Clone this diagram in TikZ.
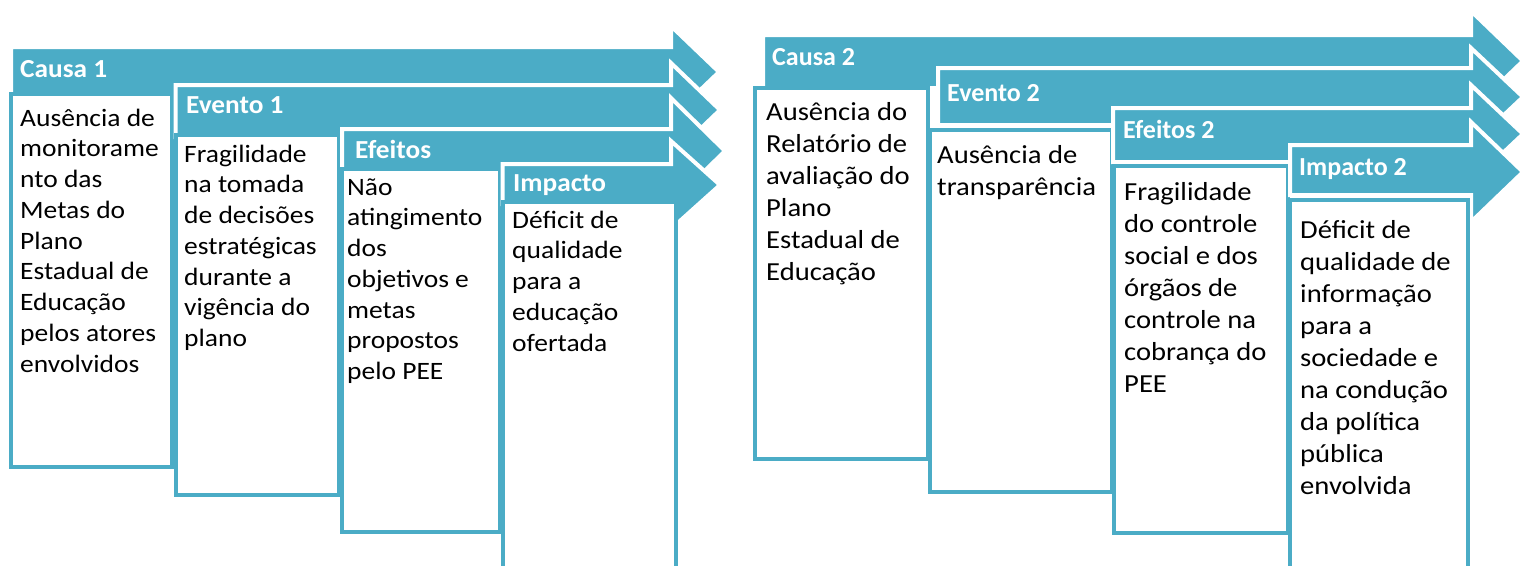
\documentclass[tikz,border=0pt]{standalone}
\usepackage{fontspec}
\setmainfont{Carlito}
\newfontfamily\bodyfont{Carlito}[FakeStretch=1.1]
\newfontfamily\headfont{Carlito}[FakeStretch=1.05]
\definecolor{accent}{HTML}{4BACC6}
% #1 xL, #2 yTop, #3 yBottom, #4 xHead, #5 centre y, #6 half head height, #7 x tip
\newcommand\procarrow[7]{%
  \path[arrowshape] (#1,#2) -- (#4,#2) -- (#4,#5-#6) -- (#7,#5) -- (#4,#5+#6) -- (#4,#3) -- (#1,#3) -- cycle;}
\begin{document}
\begin{tikzpicture}[x=1pt,y=-1pt,
  arrowshape/.style={fill=accent,draw=white,line width=4pt,line join=miter},
  boxshape/.style={fill=white,draw=accent,line width=4pt},
  headA/.style={anchor=base west,inner sep=0pt,text=white,font=\headfont\bfseries\fontsize{26}{31}\selectfont},
  headB/.style={anchor=base west,inner sep=0pt,text=white,font=\setmainfont{Carlito}\bfseries\fontsize{26}{31}\selectfont},
  bodyA/.style={anchor=north west,inner sep=0pt,align=left,text=black,font=\bodyfont\fontsize{25}{30.75}\selectfont},
  bodyB/.style={anchor=north west,inner sep=0pt,align=left,text=black,font=\bodyfont\fontsize{26}{32}\selectfont}
]
\useasboundingbox (0,0) rectangle (1520,565);
\clip (0,0) rectangle (1520,565);
% ---------------- group 1 ----------------
\procarrow{11}{47}{96}{671}{72}{46}{719}
\path[boxshape] (11,94) rectangle (172,467);
\procarrow{175.5}{85}{137}{671}{110}{47}{720}
\path[boxshape] (175.5,135) rectangle (338.5,495);
\procarrow{342}{129}{171}{671}{151}{53}{725}
\path[boxshape] (342,169) rectangle (500,532);
\procarrow{502.5}{164}{204}{671}{185}{44}{720}
\path[boxshape] (502.5,202) rectangle (676,620);

\node[headA] (h11) at (20,77) {Causa 1};
\node[headA] (h12) at (186,113) {Evento 1};
\node[headA] (h13) at (355,158) {Efeitos};
\node[headA] (h14) at (513,191) {Impacto};

\node[bodyA] (b11) at (20,104) {\rule{0pt}{22pt}Ausência de\\monitorame\\nto das\\Metas do\\Plano\\Estadual de\\Educação\\pelos atores\\envolvidos};
\node[bodyA] (b12) at (184,140) {\rule{0pt}{22pt}Fragilidade\\na tomada\\de decisões\\estratégicas\\durante a\\vigência do\\plano};
\node[bodyA] (b13) at (347,173) {\rule{0pt}{22pt}Não\\atingimento\\dos\\objetivos e\\metas\\propostos\\pelo PEE};
\node[bodyA] (b14) at (512,206) {\rule{0pt}{22pt}Déficit de\\qualidade\\para a\\educação\\ofertada};

% ---------------- group 2 ----------------
\procarrow{763}{35}{88}{1471}{61}{50}{1523}
\path[boxshape] (755,88) rectangle (928,459);
\procarrow{938}{68}{125}{1471}{97}{49}{1523}
\path[boxshape] (930,130) rectangle (1112,492);
\procarrow{1113}{108}{162}{1471}{134}{49}{1523}
\path[boxshape] (1114,166) rectangle (1288,533);
\procarrow{1290}{145}{195}{1471}{172}{50}{1523}
\path[boxshape] (1290,200) rectangle (1468,620);

\node[headB] (h21) at (772,65) {Causa 2};
\node[headB] (h22) at (947,101) {Evento 2};
\node[headB] (h23) at (1123,138) {Efeitos 2};
\node[headB] (h24) at (1299,175) {Impacto 2};

\node[bodyB] (b21) at (766,98) {\rule{0pt}{22pt}Ausência do\\Relatório de\\avaliação do\\Plano\\Estadual de\\Educação};
\node[bodyB] (b22) at (937,141) {\rule{0pt}{22pt}Ausência de\\transparência};
\node[bodyB] (b23) at (1124,178) {\rule{0pt}{22pt}Fragilidade\\do controle\\social e dos\\órgãos de\\controle na\\cobrança do\\PEE};
\node[bodyB] (b24) at (1300,216) {\rule{0pt}{22pt}Déficit de\\qualidade de\\informação\\para a\\sociedade e\\na condução\\da política\\pública\\envolvida};
\end{tikzpicture}
\end{document}
